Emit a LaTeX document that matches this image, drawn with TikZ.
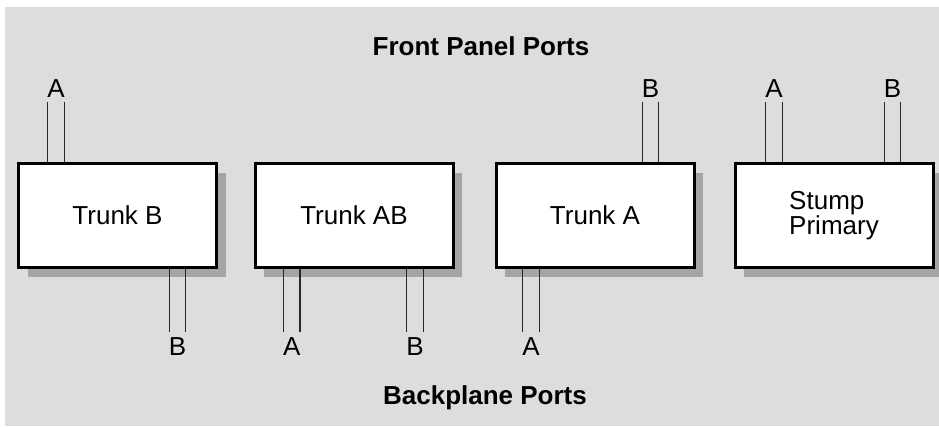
\documentclass[tikz,border=0pt]{standalone}
\usepackage{fontspec}
\setmainfont{Liberation Sans}
\usetikzlibrary{shadows}
\definecolor{bggray}{RGB}{220,221,223}
\definecolor{shgray}{RGB}{165,165,168}
\definecolor{portline}{RGB}{40,40,40}
\tikzset{
  unitbox/.style={draw=black, line width=3pt, fill=white, minimum width=198pt, minimum height=104pt,
    inner sep=0pt, align=left, font=\fontsize{26}{25}\selectfont,
    drop shadow={shadow xshift=9pt, shadow yshift=-9pt, fill=shgray, opacity=1}},
  portlbl/.style={inner sep=4.5pt, anchor=base, font=\fontsize{26}{25}\selectfont},
  titlelbl/.style={inner sep=0pt, anchor=base, font=\fontsize{26}{25}\selectfont\bfseries},
  wire/.style={draw=portline, line width=1.2pt}
}
\begin{document}
\begin{tikzpicture}[x=1pt, y=-1pt]
\useasboundingbox (0,0) rectangle (939,426);
\fill[bggray] (5,7) rectangle (939,426);

\node[titlelbl] (fpp) at (481,55) {Front Panel Ports};
\node[titlelbl] (bpp) at (485,404) {Backplane Ports};

\node[unitbox] (tb)  at (117.5,215.5) {Trunk B};
\node[unitbox] (tab) at (354,215.5) {Trunk AB};
\node[unitbox] (ta)  at (595,215.5) {Trunk A};
\node[unitbox] (sp)  at (834,215.5) {Stump\\Primary};

% top labels
\node[portlbl] (tbA) at (56,97) {A};
\node[portlbl] (taB) at (650.5,97) {B};
\node[portlbl] (spA) at (774,97) {A};
\node[portlbl] (spB) at (892.5,97) {B};
% bottom labels
\node[portlbl] (tbB)  at (177.5,355) {B};
\node[portlbl] (tabA) at (291.7,355) {A};
\node[portlbl] (tabB) at (415,355) {B};
\node[portlbl] (taA)  at (531,355) {A};

% top ports
\foreach \l/\b in {tbA/tb, taB/ta, spA/sp, spB/sp}{
  \draw[wire] ([xshift=-8.25pt]\l.south) -- ([xshift=-8.25pt]\l.south |- \b.north);
  \draw[wire] ([xshift=8.25pt]\l.south) -- ([xshift=8.25pt]\l.south |- \b.north);
}
% bottom ports
\foreach \l/\b in {tbB/tb, tabA/tab, tabB/tab, taA/ta}{
  \draw[wire] ([xshift=-8.25pt]\l.north) -- ([xshift=-8.25pt]\l.north |- \b.south);
  \draw[wire] ([xshift=8.25pt]\l.north) -- ([xshift=8.25pt]\l.north |- \b.south);
}
\end{tikzpicture}
\end{document}
